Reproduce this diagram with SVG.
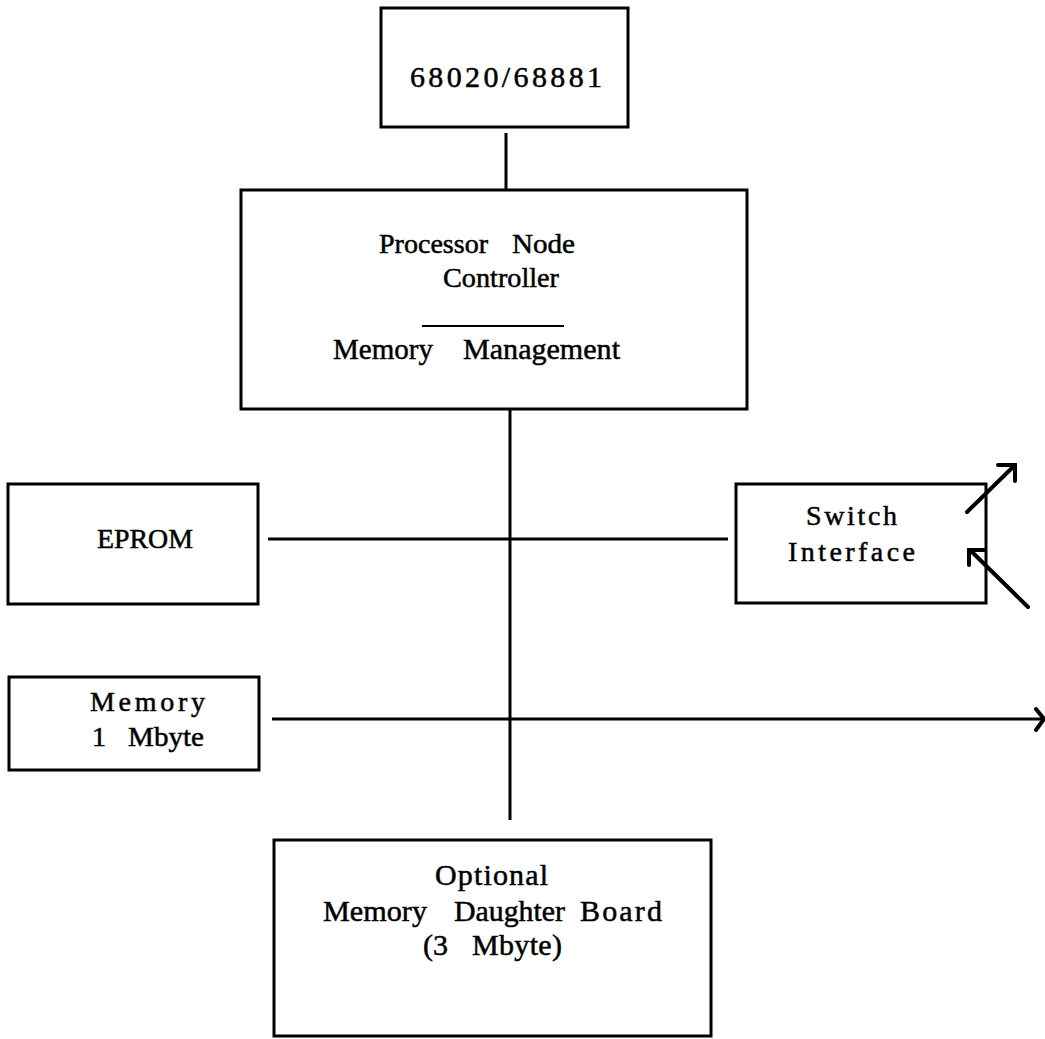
<svg xmlns="http://www.w3.org/2000/svg" width="1045" height="1039" viewBox="0 0 1045 1039">
  <style>
    .box { fill: none; stroke: #000; stroke-width: 3; }
    .wire { fill: none; stroke: #000; stroke-width: 3; stroke-linecap: butt; }
    .ext { stroke-width: 4; stroke-linecap: round; }
    .head { fill: none; stroke: #000; stroke-width: 4; stroke-linecap: round; stroke-linejoin: miter; }
    text { font-family: "Liberation Serif", "Times New Roman", serif; font-size: 28px; fill: #000; stroke: #000; stroke-width: 0.5; }
    .big { font-size: 30px; }
  </style>
  <rect width="1045" height="1039" fill="#fff"/>

  <!-- bus and links -->
  <g id="connectors">
    <line class="wire" x1="506" y1="133" x2="506" y2="190"/>
    <line class="wire" x1="510" y1="409" x2="510" y2="820"/>
    <line class="wire" x1="268" y1="539" x2="728" y2="539"/>
    <line class="wire" x1="272" y1="719" x2="1043" y2="719"/>
    <polyline class="head" points="1036,709 1044,719 1036,730"/>
    <!-- switch network out / in -->
    <line class="wire ext" x1="967" y1="512" x2="1014" y2="466"/>
    <polyline class="head" points="998,465 1015,465 1015,481"/>
    <line class="wire ext" x1="1028" y1="607" x2="971" y2="551"/>
    <polyline class="head" points="984,550 969,550 969,565"/>
  </g>

  <g id="cpu">
    <rect class="box" x="381" y="8" width="247" height="119"/>
    <text class="big" x="410" y="87" textLength="192" lengthAdjust="spacing">68020/68881</text>
  </g>

  <g id="pnc">
    <rect class="box" x="241" y="190" width="506" height="219"/>
    <text x="379" y="253" textLength="109" lengthAdjust="spacingAndGlyphs">Processor</text>
    <text x="512" y="253" textLength="63" lengthAdjust="spacingAndGlyphs">Node</text>
    <text x="443" y="287" textLength="116" lengthAdjust="spacingAndGlyphs">Controller</text>
    <line class="wire" x1="422" y1="326" x2="564" y2="326" style="stroke-width:2"/>
    <text class="big" x="333" y="359" textLength="100" lengthAdjust="spacingAndGlyphs">Memory</text>
    <text class="big" x="463" y="359" textLength="157" lengthAdjust="spacingAndGlyphs">Management</text>
  </g>

  <g id="eprom">
    <rect class="box" x="8" y="484" width="250" height="120"/>
    <text x="97" y="548" textLength="96" lengthAdjust="spacingAndGlyphs">EPROM</text>
  </g>

  <g id="switch">
    <rect class="box" x="736" y="484" width="250" height="119"/>
    <text x="806" y="525" textLength="91" lengthAdjust="spacing">Switch</text>
    <text x="788" y="561" textLength="127" lengthAdjust="spacing">Interface</text>
  </g>

  <g id="memory">
    <rect class="box" x="9" y="677" width="250" height="93"/>
    <text x="90" y="711" textLength="115" lengthAdjust="spacing">Memory</text>
    <text x="92" y="746">1</text>
    <text x="128" y="746" textLength="76" lengthAdjust="spacingAndGlyphs">Mbyte</text>
  </g>

  <g id="daughter">
    <rect class="box" x="274" y="840" width="437" height="196"/>
    <text class="big" x="435" y="885" textLength="113" lengthAdjust="spacing">Optional</text>
    <text class="big" x="323" y="921" textLength="104" lengthAdjust="spacingAndGlyphs">Memory</text>
    <text class="big" x="454" y="921" textLength="111" lengthAdjust="spacingAndGlyphs">Daughter</text>
    <text class="big" x="580" y="921" textLength="82" lengthAdjust="spacing">Board</text>
    <text class="big" x="423" y="955">(3</text>
    <text class="big" x="472" y="955" textLength="90" lengthAdjust="spacing">Mbyte)</text>
  </g>
</svg>
